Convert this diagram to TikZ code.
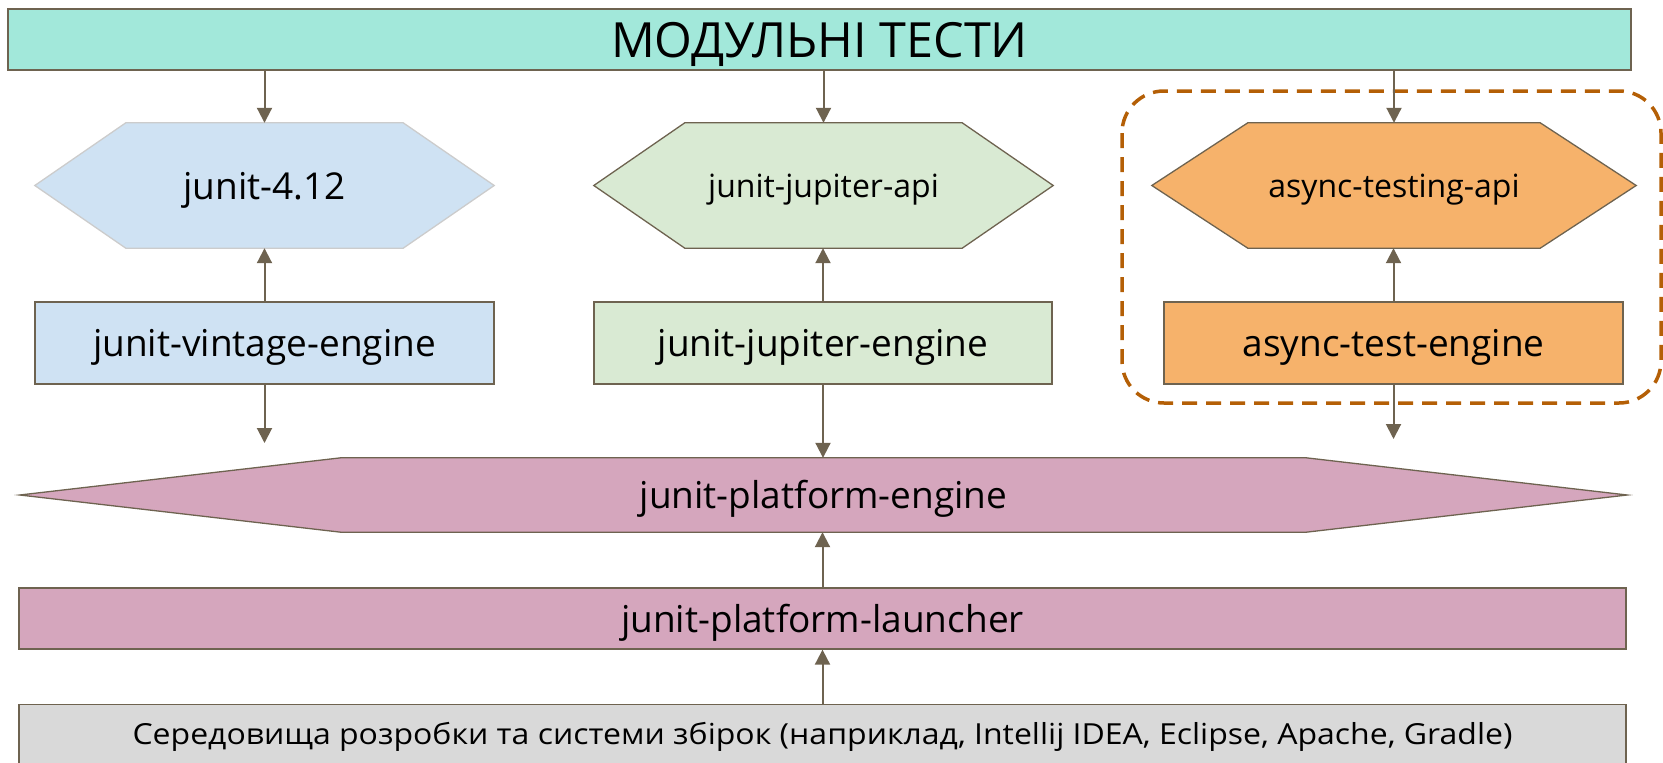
\documentclass[tikz,border=0pt]{standalone}
\usepackage{fontspec}
\setmainfont{Open Sans}
\usetikzlibrary{arrows.meta,backgrounds}

\definecolor{linec}{HTML}{6E6350}
\definecolor{tealc}{HTML}{A2E8DA}
\definecolor{bluec}{HTML}{CFE2F3}
\definecolor{greenc}{HTML}{D9EAD3}
\definecolor{orangec}{HTML}{F6B26B}
\definecolor{pinkc}{HTML}{D5A6BD}
\definecolor{grayc}{HTML}{D9D9D9}
\definecolor{dashc}{HTML}{B45F06}
\definecolor{softline}{HTML}{CCCCCC}

\newlength\envw
\newcommand\envtext{Середовища розробки та системи збірок (наприклад, Intellij IDEA, Eclipse, Apache, Gradle)}

% hexagon drawn behind a named text node; #2 is the corner inset
\newcommand\hexframe[3]{%
  \begin{pgfonlayer}{background}
  \draw[#3] (#1.west) -- ([xshift=#2]#1.north west) -- ([xshift=-#2]#1.north east)
    -- (#1.east) -- ([xshift=-#2]#1.south east) -- ([xshift=#2]#1.south west) -- cycle;
  \end{pgfonlayer}}

\begin{document}
\begin{tikzpicture}[x=1pt,y=-1pt,
  box/.style={draw=linec, line width=1.3pt, inner sep=0pt, text=black},
  hexcore/.style={inner sep=0pt, text=black},
  edge/.style={draw=linec, line width=2pt, -{Triangle[length=15pt,width=15pt]}},
  big/.style={font=\fontsize{37}{44}\selectfont, text height=37pt, text depth=9.25pt},
  mid/.style={font=\fontsize{32}{38}\selectfont, text height=32pt, text depth=8pt},
  title/.style={font=\fontsize{48.5}{58}\selectfont, text height=48.5pt, text depth=12pt}]

\useasboundingbox (0,0) rectangle (1663,763);

% top bar
\node[box, title, fill=tealc, minimum width=1623pt, minimum height=61pt] (top) at (819.5,39.5) {МОДУЛЬНІ ТЕСТИ};

% api hexagons
\node[hexcore, big, minimum width=459pt, minimum height=125pt] (h1) at (264.5,185.5) {junit-4.12};
\hexframe{h1}{91pt}{fill=bluec, draw=softline, line width=1.3pt}
\node[hexcore, mid, minimum width=459pt, minimum height=125pt] (h2) at (823.5,185.5) {junit-jupiter-api};
\hexframe{h2}{91pt}{fill=greenc, draw=linec, line width=1.3pt}
\node[hexcore, mid, minimum width=484pt, minimum height=125pt] (h3) at (1394,185.5) {async-testing-api};
\hexframe{h3}{96pt}{fill=orangec, draw=linec, line width=1.3pt}

% engines
\node[box, big, fill=bluec, minimum width=459pt, minimum height=82pt] (e1) at (264.5,343) {junit-vintage-engine};
\node[box, big, fill=greenc, minimum width=458pt, minimum height=82pt] (e2) at (823,343) {junit-jupiter-engine};
\node[box, big, fill=orangec, minimum width=459pt, minimum height=82pt] (e3) at (1393.5,343) {async-test-engine};

% platform engine
\node[hexcore, big, minimum width=1607pt, minimum height=74pt] (pe) at (823.5,495) {junit-platform-engine};
\hexframe{pe}{321pt}{fill=pinkc, draw=linec, line width=1.3pt}

% launcher
\node[box, big, fill=pinkc, minimum width=1607pt, minimum height=61pt] (pl) at (822.5,618.5) {junit-platform-launcher};

% tools
\node[box, fill=grayc, minimum width=1607pt, minimum height=80pt, anchor=north] (env) at (822.5,704) {};
\node[inner sep=0pt] (envt) at (822.5,737) {\fontsize{29}{35}\selectfont\settowidth\envw{\envtext}%
  \pgfmathsetmacro\envsx{1380/\envw}\scalebox{\envsx}[1]{\envtext}};

% dashed group
\draw[dashc, line width=3.5pt, dash pattern=on 15pt off 9pt, rounded corners=42pt]
  (1122,91) rectangle (1661,403);

% connectors
\coordinate (v1) at (264.5,443);
\coordinate (v3) at (1393.5,439);
\draw[edge] (h1.north |- top.south) -- (h1.north);
\draw[edge] (h2.north |- top.south) -- (h2.north);
\draw[edge] (h3.north |- top.south) -- (h3.north);
\draw[edge] (e1.north) -- (h1.south);
\draw[edge] (e2.north) -- (e2.north |- h2.south);
\draw[edge] (e3.north) -- (e3.north |- h3.south);
\draw[edge] (e1.south) -- (v1);
\draw[edge] (e2.south) -- (e2.south |- pe.north);
\draw[edge] (e3.south) -- (v3);
\draw[edge] (pl.north) -- (pl.north |- pe.south);
\draw[edge] (env.north) -- (env.north |- pl.south);
\end{tikzpicture}
\end{document}
